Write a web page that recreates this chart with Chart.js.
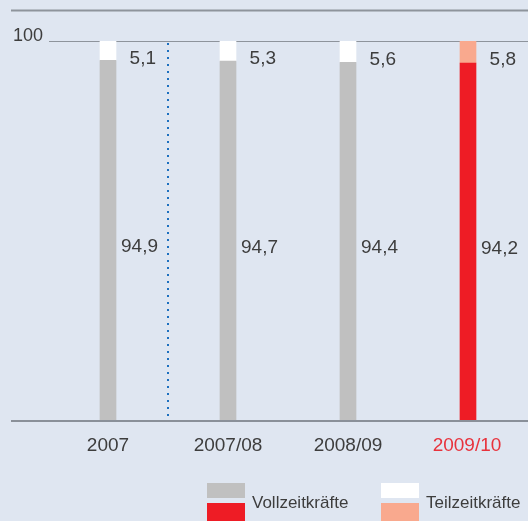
<!DOCTYPE html>
<html><head><meta charset="utf-8">
<script src="https://cdn.jsdelivr.net/npm/chart.js@4/dist/chart.umd.min.js"></script>
<style>html,body{margin:0;padding:0;background:#dfe6f1;}#wrap{width:528px;height:521px;position:relative;}</style>
</head><body><div id="wrap"><canvas id="c" width="528" height="521"></canvas></div>
<script>
const categories = ["2007", "2007/08", "2008/09", "2009/10"];
const vollzeit = [94.9, 94.7, 94.4, 94.2];
const teilzeit = [5.1, 5.3, 5.6, 5.8];
const vollLabels = ["94,9", "94,7", "94,4", "94,2"];
const teilLabels = ["5,1", "5,3", "5,6", "5,8"];
const yTicks = [100];

const FONT = '"Liberation Sans", Arial, Helvetica, sans-serif';
const TXT = '#3d3d3d';
const vollColors = ['#c0c0c0', '#c0c0c0', '#c0c0c0', '#ee1c25'];
const teilColors = ['#ffffff', '#ffffff', '#ffffff', '#f9a98e'];

const deco = {
  id: 'deco',
  beforeDatasetsDraw(chart) {
    const ctx = chart.ctx, x = chart.scales.x, y = chart.scales.y, a = chart.chartArea;
    ctx.save();
    ctx.strokeStyle = '#8e949c'; ctx.lineWidth = 2;
    ctx.beginPath(); ctx.moveTo(11, 10.5); ctx.lineTo(528, 10.5); ctx.stroke();
    yTicks.forEach(t => {
      const py = Math.round(y.getPixelForValue(t)) + 0.5;
      ctx.strokeStyle = '#8e949c'; ctx.lineWidth = 1;
      ctx.beginPath(); ctx.moveTo(a.left + 1, py); ctx.lineTo(a.right, py); ctx.stroke();
      ctx.fillStyle = TXT; ctx.font = '18px ' + FONT;
      ctx.textAlign = 'right'; ctx.textBaseline = 'middle';
      ctx.fillText(String(t), 43, py - 5);
    });
    const sx = Math.round((x.getPixelForValue(0) + x.getPixelForValue(1)) / 2);
    ctx.strokeStyle = '#1c6fbf'; ctx.lineWidth = 2; ctx.setLineDash([2, 5]);
    ctx.beginPath(); ctx.moveTo(sx, y.getPixelForValue(100) + 2); ctx.lineTo(sx, y.getPixelForValue(0)); ctx.stroke();
    ctx.setLineDash([]);
    ctx.restore();
  },
  afterDatasetsDraw(chart) {
    const ctx = chart.ctx, x = chart.scales.x, y = chart.scales.y;
    ctx.save();
    ctx.strokeStyle = '#8a9099'; ctx.lineWidth = 2;
    ctx.beginPath(); ctx.moveTo(11, y.getPixelForValue(0) + 1); ctx.lineTo(528, y.getPixelForValue(0) + 1); ctx.stroke();
    ctx.fillStyle = TXT; ctx.font = '19px ' + FONT;
    ctx.textAlign = 'right'; ctx.textBaseline = 'middle';
    categories.forEach((c, i) => {
      const cx = x.getPixelForValue(i);
      const yv0 = y.getPixelForValue(0), yv1 = y.getPixelForValue(vollzeit[i]);
      const yt1 = y.getPixelForValue(vollzeit[i] + teilzeit[i]);
      ctx.fillText(vollLabels[i], cx + 50, (yv0 + yv1) / 2 + 7);
      ctx.fillText(teilLabels[i], cx + 48, (yv1 + yt1) / 2 + 8);
    });
    ctx.textAlign = 'center';
    categories.forEach((c, i) => {
      ctx.fillStyle = i === categories.length - 1 ? '#e8323c' : TXT;
      ctx.fillText(c, x.getPixelForValue(i) - (i === 3 ? 1 : 0), y.getPixelForValue(0) + 26);
    });
    ctx.textAlign = 'left'; ctx.font = '17px ' + FONT;
    const leg = [
      {x: 207, top: '#c0c0c0', bot: '#ee1c25', label: 'Vollzeitkräfte'},
      {x: 381, top: '#ffffff', bot: '#f9a98e', label: 'Teilzeitkräfte'}
    ];
    leg.forEach(l => {
      ctx.fillStyle = l.top; ctx.fillRect(l.x, 483, 38, 15);
      ctx.fillStyle = l.bot; ctx.fillRect(l.x, 503, 38, 18);
      ctx.fillStyle = TXT; ctx.fillText(l.label, l.x + 45, 503);
    });
    ctx.restore();
  }
};

new Chart(document.getElementById('c'), {
  type: 'bar',
  data: {
    labels: categories,
    datasets: [
      { label: 'Vollzeitkräfte', data: vollzeit, backgroundColor: vollColors, barThickness: 16, borderWidth: 0 },
      { label: 'Teilzeitkräfte', data: teilzeit, backgroundColor: teilColors, barThickness: 16, borderWidth: 0 }
    ]
  },
  options: {
    responsive: false, animation: false, devicePixelRatio: 1,
    layout: { padding: { left: 48, right: 0, top: 41, bottom: 101 } },
    plugins: { legend: { display: false }, tooltip: { enabled: false } },
    scales: {
      x: { stacked: true, display: false },
      y: { stacked: true, display: false, min: 0, max: 100 }
    }
  },
  plugins: [deco]
});
</script></body></html>
